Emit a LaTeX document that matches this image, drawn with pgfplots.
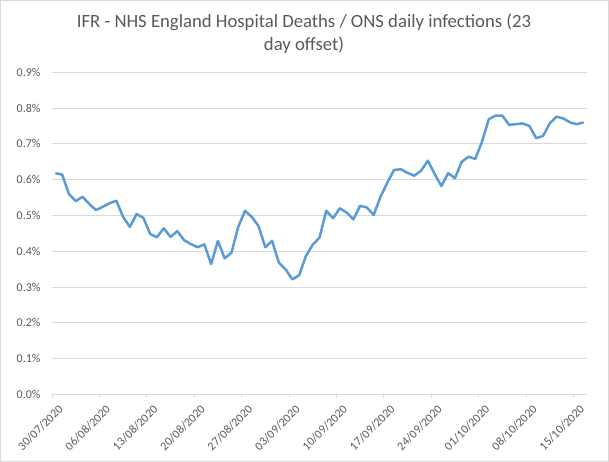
\documentclass[border=0pt]{standalone}
\usepackage{pgfplots}
\pgfplotsset{compat=1.18}
\usepackage{fontspec}
\setmainfont{Carlito}
\definecolor{txtgray}{HTML}{595959}
\definecolor{gridgray}{HTML}{D9D9D9}
\definecolor{lineblue}{HTML}{5B9BD5}
\begin{document}
\begin{tikzpicture}
\useasboundingbox (0,0) rectangle (609bp,-462bp);
\draw[gridgray, line width=0.75bp] (0.5bp,-0.5bp) rectangle (608.5bp,-461.5bp);
\node[align=center, text=txtgray, font=\fontsize{18.7bp}{23bp}\selectfont] at (304bp,-34bp)
  {IFR - NHS England Hospital Deaths / ONS daily infections (23\\day offset)};
\begin{axis}[
  at={(52bp,-394.3bp)}, anchor=south west,
  scale only axis, width=535bp, height=322bp,
  xmin=0, xmax=79, ymin=0, ymax=0.9,
  separate axis lines,
  axis x line*=bottom, axis y line*=left,
  x axis line style={gridgray, line width=0.75bp, -},
  y axis line style={draw=none},
  ytick={0,0.1,...,0.9},
  yticklabels={0.0\%,0.1\%,0.2\%,0.3\%,0.4\%,0.5\%,0.6\%,0.7\%,0.8\%,0.9\%},
  ytick style={draw=none},
  ymajorgrids, grid style={gridgray, line width=0.75bp},
  yticklabel style={text=txtgray, font=\fontsize{12bp}{14bp}\selectfont, anchor=east, xshift=-4bp},
  xtick={0,7,...,77},
  xticklabels={30/07/2020,06/08/2020,13/08/2020,20/08/2020,27/08/2020,03/09/2020,10/09/2020,17/09/2020,24/09/2020,01/10/2020,08/10/2020,15/10/2020},
  xtick style={gridgray, line width=0.75bp},
  tick align=outside, major tick length=4bp, xtick pos=bottom,
  xticklabel style={text=txtgray, font=\fontsize{12bp}{14bp}\selectfont, rotate=45, anchor=north east, inner sep=1bp, xshift=1bp, yshift=-7bp},
  clip=false,
]
\addplot[lineblue, line width=2.5bp, line join=round, mark=none] table[x=x, y=y] {
x y
0.5 0.618
1.5 0.614
2.5 0.560
3.5 0.540
4.5 0.552
5.5 0.532
6.5 0.515
7.5 0.524
8.5 0.534
9.5 0.541
10.5 0.496
11.5 0.468
12.5 0.504
13.5 0.493
14.5 0.448
15.5 0.439
16.5 0.464
17.5 0.440
18.5 0.456
19.5 0.431
20.5 0.420
21.5 0.411
22.5 0.419
23.5 0.364
24.5 0.429
25.5 0.380
26.5 0.396
27.5 0.468
28.5 0.513
29.5 0.496
30.5 0.470
31.5 0.411
32.5 0.429
33.5 0.368
34.5 0.349
35.5 0.321
36.5 0.333
37.5 0.387
38.5 0.418
39.5 0.438
40.5 0.513
41.5 0.492
42.5 0.520
43.5 0.508
44.5 0.489
45.5 0.527
46.5 0.522
47.5 0.501
48.5 0.552
49.5 0.591
50.5 0.627
51.5 0.629
52.5 0.619
53.5 0.611
54.5 0.625
55.5 0.653
56.5 0.616
57.5 0.582
58.5 0.618
59.5 0.604
60.5 0.650
61.5 0.664
62.5 0.658
63.5 0.706
64.5 0.769
65.5 0.779
66.5 0.779
67.5 0.753
68.5 0.755
69.5 0.757
70.5 0.750
71.5 0.716
72.5 0.722
73.5 0.757
74.5 0.776
75.5 0.771
76.5 0.760
77.5 0.755
78.5 0.760
};
\end{axis}
\end{tikzpicture}
\end{document}
